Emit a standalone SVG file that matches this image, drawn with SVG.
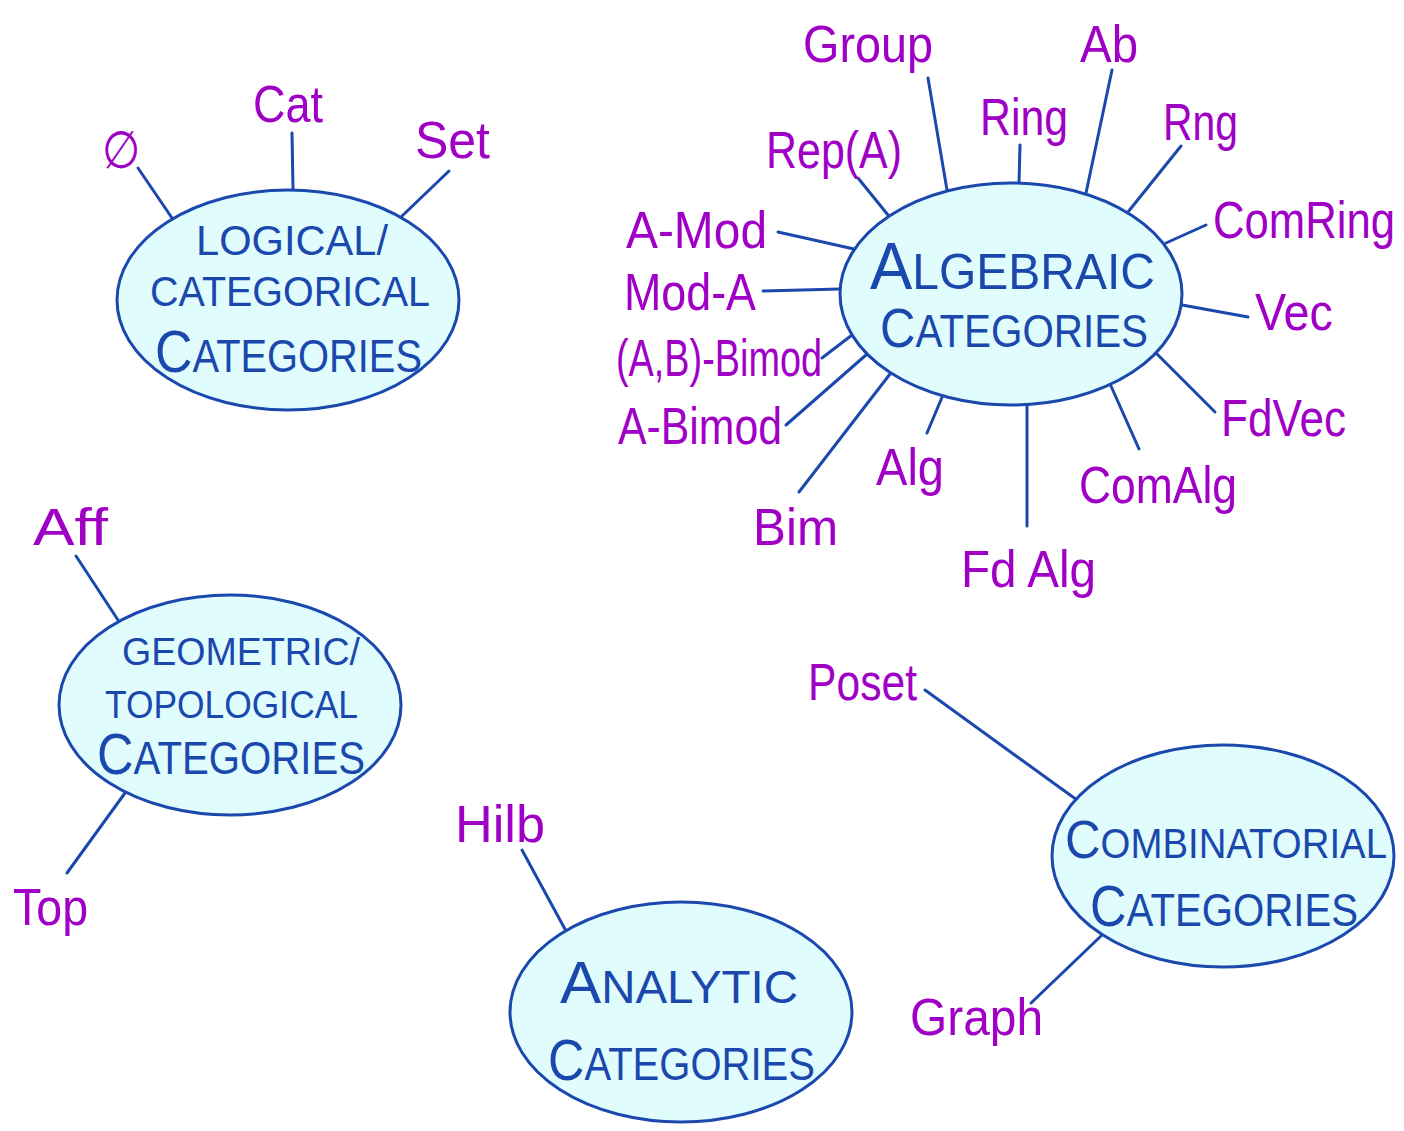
<svg xmlns="http://www.w3.org/2000/svg" width="1404" height="1131" viewBox="0 0 1404 1131">
  <style>
    .node ellipse { fill: #e0fcfd; stroke: #1a48ad; stroke-width: 3; }
    .node text { fill: #1a48ad; font-family: "Liberation Sans Narrow", "Liberation Sans", sans-serif; }
    .lbl { fill: #a000c6; font-family: "Liberation Sans Narrow", "Liberation Sans", sans-serif; font-size: 52px; }
    #connectors line { stroke: #1a48ad; stroke-width: 3; stroke-linecap: round; }
  </style>
  <rect width="1404" height="1131" fill="#ffffff"/>

  <!-- spokes from each category to its examples -->
  <g id="connectors">
    <line x1="138" y1="168" x2="172" y2="218"/>
    <line x1="292" y1="133" x2="293" y2="189"/>
    <line x1="449" y1="171" x2="402" y2="216"/>

    <line x1="928" y1="78" x2="947" y2="190"/>
    <line x1="1020" y1="145" x2="1019" y2="183"/>
    <line x1="1112" y1="70" x2="1086" y2="193"/>
    <line x1="1181" y1="146" x2="1128" y2="212"/>
    <line x1="1206" y1="225" x2="1166" y2="243"/>
    <line x1="1248" y1="317" x2="1182" y2="305"/>
    <line x1="1215" y1="412" x2="1157" y2="354"/>
    <line x1="1139" y1="449" x2="1111" y2="386"/>
    <line x1="1027" y1="526" x2="1027" y2="405"/>
    <line x1="927" y1="433" x2="943" y2="395"/>
    <line x1="799" y1="492" x2="890" y2="374"/>
    <line x1="786" y1="425" x2="866" y2="355"/>
    <line x1="822" y1="358" x2="852" y2="335"/>
    <line x1="763" y1="291" x2="840" y2="289"/>
    <line x1="778" y1="232" x2="854" y2="249"/>
    <line x1="858" y1="178" x2="888" y2="215"/>

    <line x1="76" y1="556" x2="118" y2="620"/>
    <line x1="67" y1="873" x2="125" y2="793"/>

    <line x1="522" y1="850" x2="566" y2="931"/>

    <line x1="925" y1="690" x2="1077" y2="800"/>
    <line x1="1031" y1="1003" x2="1101" y2="936"/>
  </g>

  <g id="logical" class="node">
    <ellipse cx="288" cy="300" rx="171" ry="110"/>
    <text x="196" y="255" font-size="42" textLength="192" lengthAdjust="spacingAndGlyphs">LOGICAL/</text>
    <text x="150" y="306" font-size="42" textLength="280" lengthAdjust="spacingAndGlyphs">CATEGORICAL</text>
    <text x="155" y="372" font-size="46" textLength="267" lengthAdjust="spacingAndGlyphs"><tspan font-size="60">C</tspan>ATEGORIES</text>
  </g>

  <g id="algebraic" class="node">
    <ellipse cx="1011" cy="294" rx="171" ry="111"/>
    <text x="870" y="289" font-size="50" textLength="285" lengthAdjust="spacingAndGlyphs"><tspan font-size="66">A</tspan>LGEBRAIC</text>
    <text x="880" y="347" font-size="46" textLength="268" lengthAdjust="spacingAndGlyphs"><tspan font-size="56">C</tspan>ATEGORIES</text>
  </g>

  <g id="geometric" class="node">
    <ellipse cx="230" cy="705" rx="171" ry="110"/>
    <text x="122" y="665" font-size="38" textLength="238" lengthAdjust="spacingAndGlyphs">GEOMETRIC/</text>
    <text x="105" y="718" font-size="38" textLength="253" lengthAdjust="spacingAndGlyphs">TOPOLOGICAL</text>
    <text x="97" y="774" font-size="46" textLength="268" lengthAdjust="spacingAndGlyphs"><tspan font-size="58">C</tspan>ATEGORIES</text>
  </g>

  <g id="analytic" class="node">
    <ellipse cx="681" cy="1012" rx="171" ry="110"/>
    <text x="560" y="1003" font-size="46" textLength="238" lengthAdjust="spacingAndGlyphs"><tspan font-size="60">A</tspan>NALYTIC</text>
    <text x="548" y="1080" font-size="46" textLength="267" lengthAdjust="spacingAndGlyphs"><tspan font-size="58">C</tspan>ATEGORIES</text>
  </g>

  <g id="combinatorial" class="node">
    <ellipse cx="1223" cy="856" rx="171" ry="111"/>
    <text x="1065" y="858" font-size="42" textLength="322" lengthAdjust="spacingAndGlyphs"><tspan font-size="54">C</tspan>OMBINATORIAL</text>
    <text x="1090" y="926" font-size="46" textLength="268" lengthAdjust="spacingAndGlyphs"><tspan font-size="58">C</tspan>ATEGORIES</text>
  </g>

  <!-- example categories -->
  <g id="examples">
    <text class="lbl" x="102" y="168" font-size="50" textLength="38" lengthAdjust="spacingAndGlyphs">∅</text>
    <text class="lbl" x="253" y="122" textLength="70" lengthAdjust="spacingAndGlyphs">Cat</text>
    <text class="lbl" x="415" y="158" textLength="75" lengthAdjust="spacingAndGlyphs">Set</text>

    <text class="lbl" x="803" y="62" textLength="130" lengthAdjust="spacingAndGlyphs">Group</text>
    <text class="lbl" x="1080" y="62" textLength="58" lengthAdjust="spacingAndGlyphs">Ab</text>
    <text class="lbl" x="980" y="135" textLength="88" lengthAdjust="spacingAndGlyphs">Ring</text>
    <text class="lbl" x="1163" y="140" textLength="75" lengthAdjust="spacingAndGlyphs">Rng</text>
    <text class="lbl" x="766" y="168" textLength="136" lengthAdjust="spacingAndGlyphs">Rep(A)</text>
    <text class="lbl" x="1213" y="238" textLength="182" lengthAdjust="spacingAndGlyphs">ComRing</text>
    <text class="lbl" x="626" y="248" textLength="141" lengthAdjust="spacingAndGlyphs">A-Mod</text>
    <text class="lbl" x="624" y="310" textLength="132" lengthAdjust="spacingAndGlyphs">Mod-A</text>
    <text class="lbl" x="1255" y="330" textLength="78" lengthAdjust="spacingAndGlyphs">Vec</text>
    <text class="lbl" x="616" y="376" font-size="44" textLength="206" lengthAdjust="spacingAndGlyphs">(A,B)-Bimod</text>
    <text class="lbl" x="618" y="444" font-size="46" textLength="164" lengthAdjust="spacingAndGlyphs">A-Bimod</text>
    <text class="lbl" x="1221" y="436" textLength="125" lengthAdjust="spacingAndGlyphs">FdVec</text>
    <text class="lbl" x="876" y="485" textLength="68" lengthAdjust="spacingAndGlyphs">Alg</text>
    <text class="lbl" x="1079" y="503" textLength="158" lengthAdjust="spacingAndGlyphs">ComAlg</text>
    <text class="lbl" x="753" y="545" textLength="85" lengthAdjust="spacingAndGlyphs">Bim</text>
    <text class="lbl" x="961" y="587" textLength="135" lengthAdjust="spacingAndGlyphs">Fd Alg</text>

    <text class="lbl" x="33" y="545" font-size="42" textLength="75" lengthAdjust="spacingAndGlyphs">Aff</text>
    <text class="lbl" x="13" y="925" textLength="75" lengthAdjust="spacingAndGlyphs">Top</text>

    <text class="lbl" x="455" y="842" textLength="90" lengthAdjust="spacingAndGlyphs">Hilb</text>

    <text class="lbl" x="808" y="700" textLength="109" lengthAdjust="spacingAndGlyphs">Poset</text>
    <text class="lbl" x="910" y="1035" textLength="133" lengthAdjust="spacingAndGlyphs">Graph</text>
  </g>
</svg>
